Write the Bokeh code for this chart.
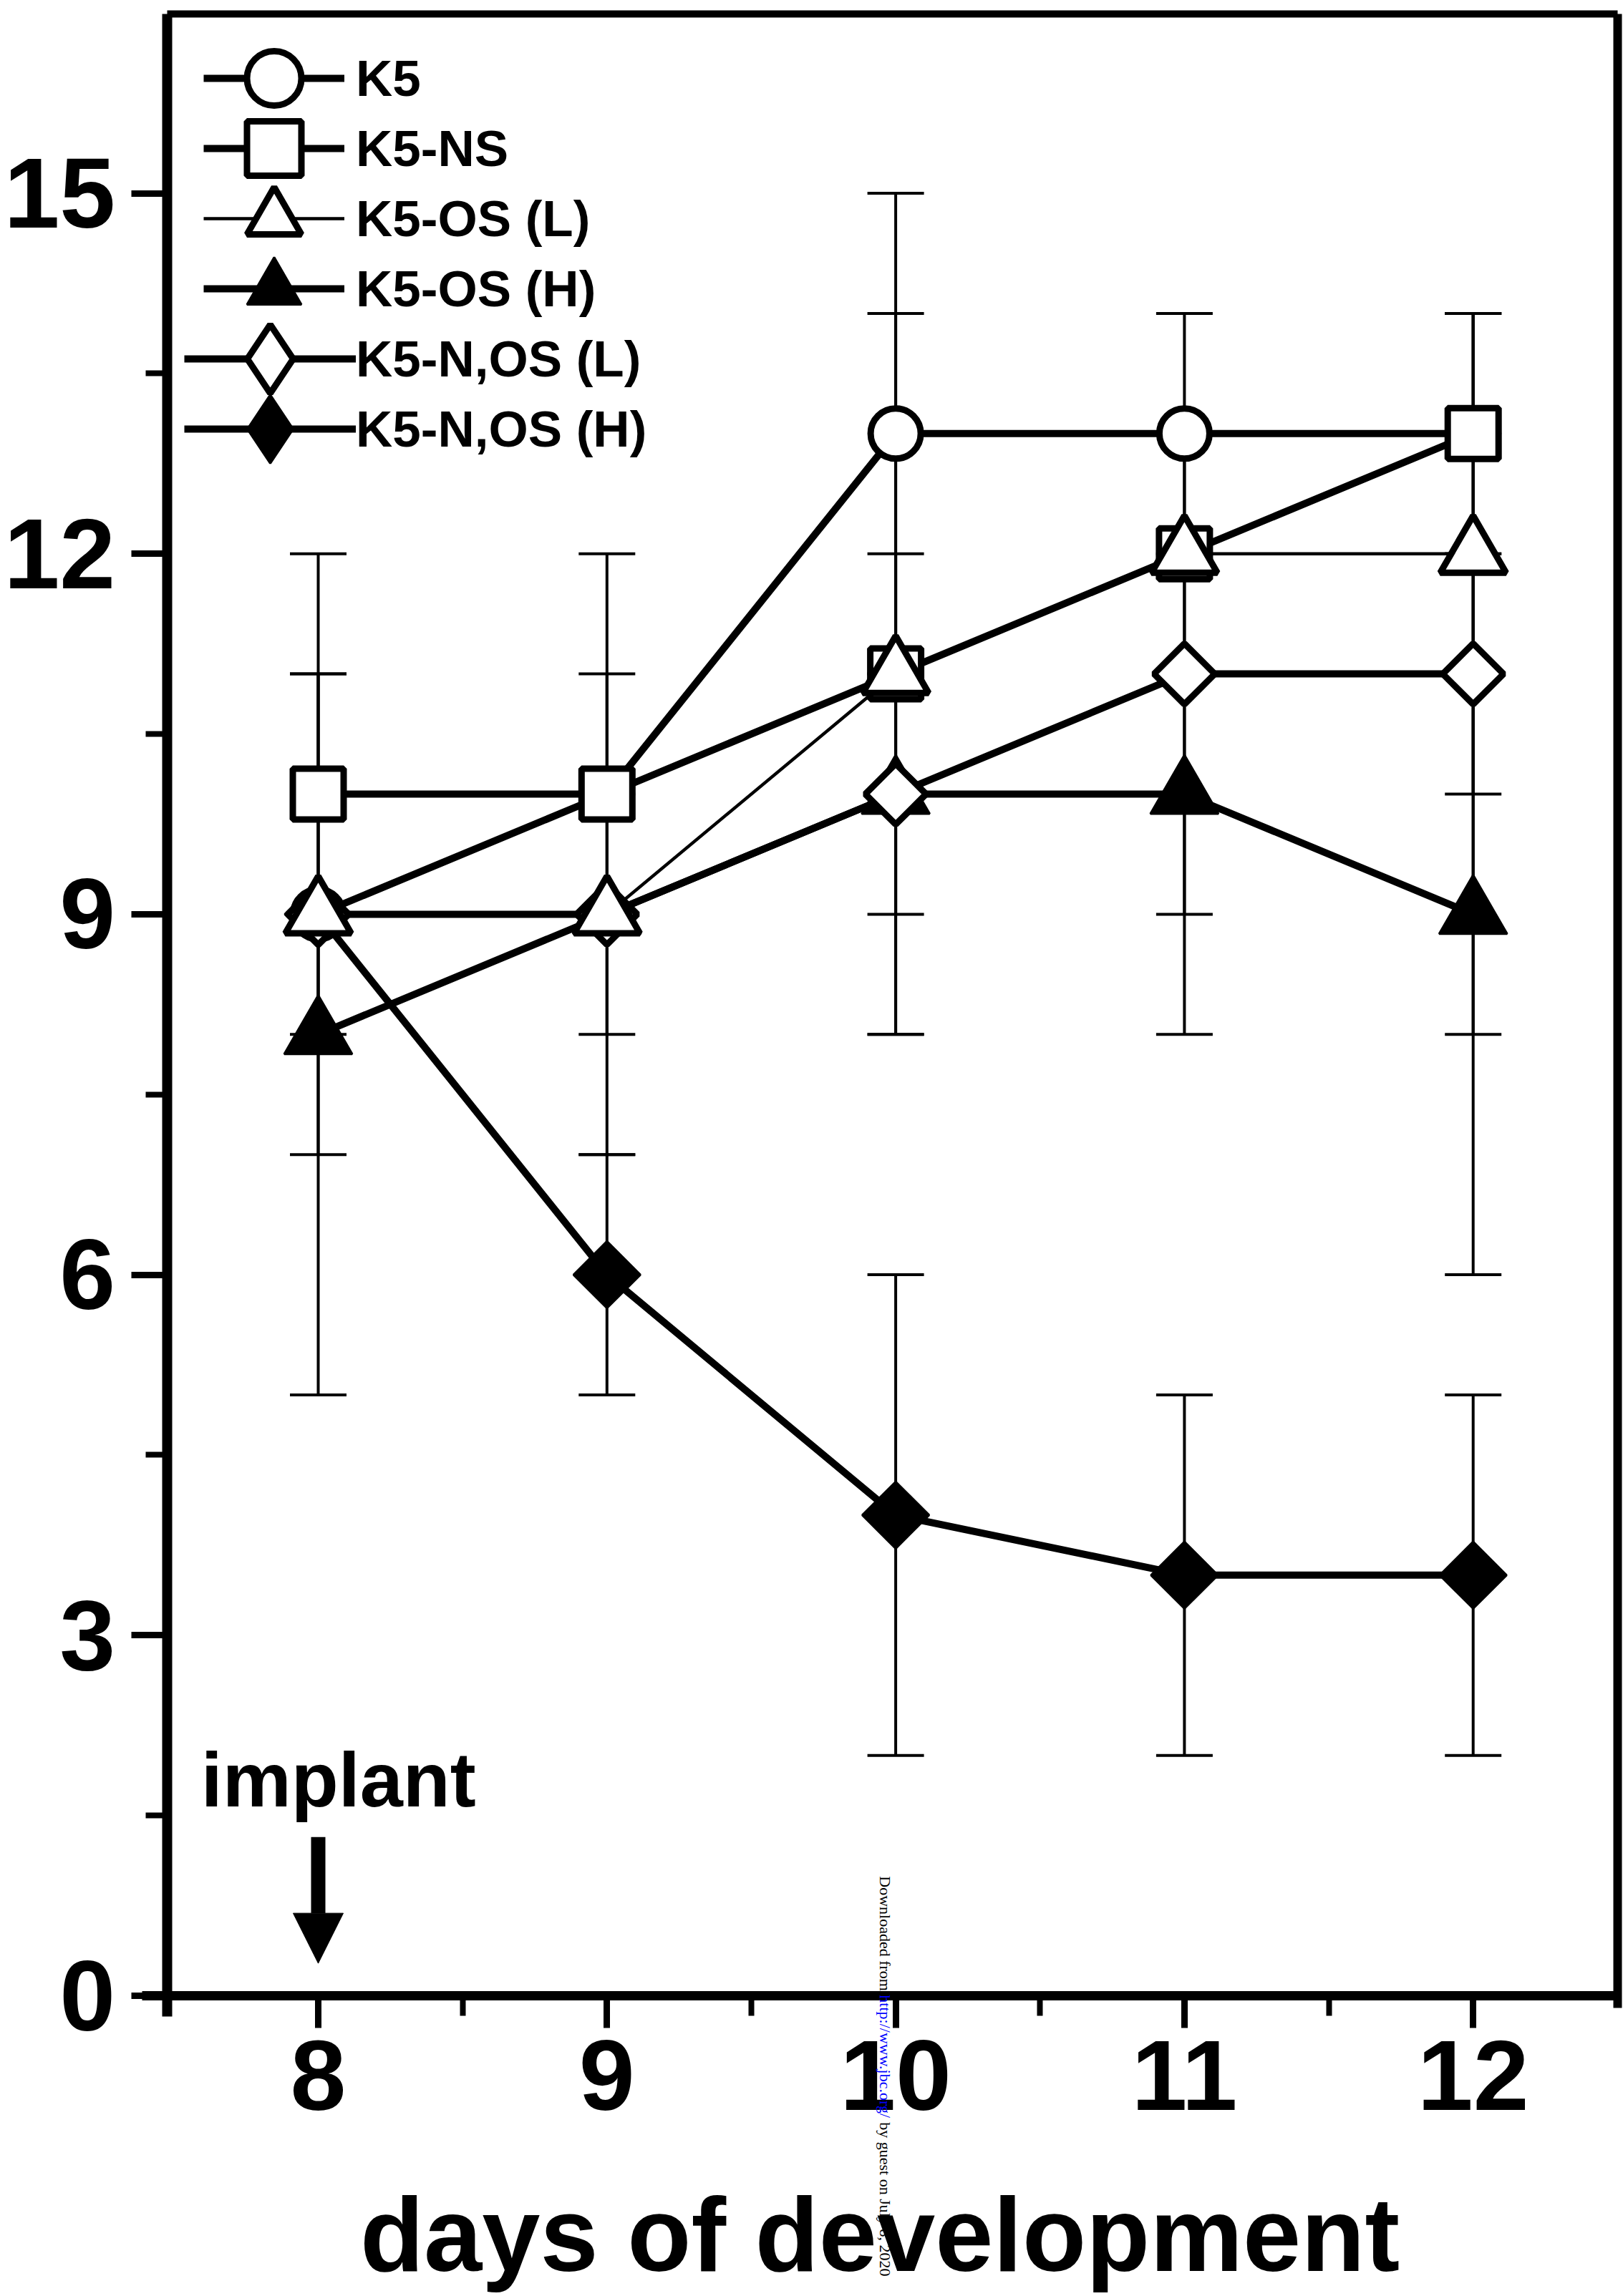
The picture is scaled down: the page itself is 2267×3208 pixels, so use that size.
import math
from bokeh.plotting import figure
from bokeh.models import (Range1d, FixedTicker, Whisker, TeeHead, ColumnDataSource,
                          Legend, LegendItem, Label, Arrow, NormalHead, LinearAxis)
from bokeh.embed import file_html
from bokeh.resources import INLINE

# ---------------- data ----------------
days = [8, 9, 10, 11, 12]
k5 = [9, 10, 13, 13, 13]
k5_ns = [10, 10, 11, 12, 13]
k5_os_l = [9, 9, 11, 12, 12]
k5_os_h = [8, 9, 10, 10, 9]
k5_nos_l = [9, 9, 10, 11, 11]
k5_nos_h = [9, 6, 4, 3.5, 3.5]

nan = float("nan")
k5_err = [2, nan, 2, 1, nan]
k5_ns_err = [2, 2, 3, nan, 1]
k5_os_l_err = [nan, 2, nan, nan, 2]
k5_os_h_err = [3, nan, 1, 2, 3]
k5_nos_l_err = [nan, nan, 2, 2, 3]
k5_nos_h_err = [nan, 1, 2, 1.5, 1.5]

series_names = ["K5", "K5-NS", "K5-OS (L)", "K5-OS (H)", "K5-N,OS (L)", "K5-N,OS (H)"]

y_ticks = [0, 3, 6, 9, 12, 15]
y_minor = [1.5, 4.5, 7.5, 10.5, 13.5]
x_ticks = [8, 9, 10, 11, 12]
x_minor = [8.5, 9.5, 10.5, 11.5]

x_title = "days of development"
note_text = "implant"
wm_parts = ["Downloaded from ", "http://www.jbc.org/", " by guest on July 8, 2020"]

# ---------------- geometry (plot box in data units) ----------------
W, H = 2267, 3208
X_LEFT, X_RIGHT = 7.476, 12.5      # y-axis position and right frame edge
Y_TOP = 16.49                      # top frame edge
PX_PER_X, PX_PER_Y = 403.3, 167.9
X8_PX, Y0_PX = 444, 2788           # canvas position of x=8 and y=0

FONT = "Liberation Sans"
p = figure(width=W, height=H, output_backend="svg", toolbar_location=None,
           x_axis_location=None, y_axis_location=None,
           x_range=Range1d(8 - X8_PX / PX_PER_X, 8 + (W - X8_PX) / PX_PER_X),
           y_range=Range1d(-(H - Y0_PX) / PX_PER_Y, Y0_PX / PX_PER_Y),
           min_border_left=0, min_border_right=0, min_border_top=0, min_border_bottom=0)
p.background_fill_color = "white"
p.border_fill_color = "white"
p.outline_line_color = None
p.xgrid.visible = False
p.ygrid.visible = False


def style_axis(ax):
    ax.axis_line_color = "black"
    ax.major_tick_line_width = 9
    ax.minor_tick_line_width = 8
    ax.major_tick_in = 0
    ax.minor_tick_in = 0
    ax.major_label_text_font = FONT
    ax.major_label_text_font_style = "bold"
    ax.major_label_text_font_size = "140px"
    ax.major_label_text_color = "black"


xa = LinearAxis(fixed_location=0, bounds=(7.39, X_RIGHT),
                ticker=FixedTicker(ticks=x_ticks, minor_ticks=x_minor))
style_axis(xa)
xa.axis_line_width = 13
xa.major_tick_out = 45
xa.minor_tick_out = 28
xa.major_label_standoff = 18
xa.axis_label = x_title
xa.axis_label_text_font = FONT
xa.axis_label_text_font_style = "bold"
xa.axis_label_text_font_size = "146px"
xa.axis_label_text_color = "black"
xa.axis_label_standoff = 90
p.add_layout(xa, "below")

ya = LinearAxis(fixed_location=X_LEFT, bounds=(-0.17, Y_TOP),
                ticker=FixedTicker(ticks=y_ticks, minor_ticks=y_minor))
style_axis(ya)
ya.axis_line_width = 14
ya.major_tick_out = 50
ya.minor_tick_out = 30
ya.major_label_standoff = 22
p.add_layout(ya, "left")

# frame top and right edges
top_ax = LinearAxis(fixed_location=Y_TOP, bounds=(X_LEFT, X_RIGHT), ticker=FixedTicker(ticks=[]),
                    major_label_text_font_size="0px", axis_line_width=10, axis_line_color="black")
p.add_layout(top_ax, "above")
right_ax = LinearAxis(fixed_location=X_RIGHT, bounds=(-0.1, Y_TOP), ticker=FixedTicker(ticks=[]),
                      major_label_text_font_size="0px", axis_line_width=12, axis_line_color="black")
p.add_layout(right_ax, "right")

# ---------------- error bars ----------------
all_vals = [k5, k5_ns, k5_os_l, k5_os_h, k5_nos_l, k5_nos_h]
all_errs = [k5_err, k5_ns_err, k5_os_l_err, k5_os_h_err, k5_nos_l_err, k5_nos_h_err]
bx, lo, hi = [], [], []
for vals, errs in zip(all_vals, all_errs):
    for d, v, e in zip(days, vals, errs):
        if e == e:
            bx.append(d); lo.append(v - e); hi.append(v + e)
wsrc = ColumnDataSource(dict(x=bx, lower=lo, upper=hi))
w = Whisker(source=wsrc, base="x", lower="lower", upper="upper", dimension="height",
            line_width=4, line_color="black", level="underlay",
            upper_head=TeeHead(size=79, line_width=4, line_color="black"),
            lower_head=TeeHead(size=79, line_width=4, line_color="black"))
p.add_layout(w)

# ---------------- lines & markers ----------------
styles = {
    "K5": dict(marker="circle", size=70, fill="white", lw=9, angle=0, line=10, leg="circle"),
    "K5-NS": dict(marker="square", size=71, fill="white", lw=9, angle=0, line=10, leg="square"),
    "K5-OS (L)": dict(marker="triangle", size=92, fill="white", lw=9, angle=0, line=4.5, leg="triangle"),
    "K5-OS (H)": dict(marker="triangle", size=95, fill="black", lw=3, angle=0, line=10, leg="triangle"),
    "K5-N,OS (L)": dict(marker="square", size=60, fill="white", lw=9, angle=math.pi / 4, line=10, leg="diamond"),
    "K5-N,OS (H)": dict(marker="square", size=66, fill="black", lw=3, angle=math.pi / 4, line=10, leg="diamond"),
}
data = dict(zip(series_names, all_vals))

line_r = {}
for name in series_names:
    line_r[name] = p.line(days, data[name], line_color="black", line_width=styles[name]["line"])

scat_r = {}
draw_order = ["K5-N,OS (H)", "K5-OS (H)", "K5", "K5-N,OS (L)", "K5-NS", "K5-OS (L)"]
for name in draw_order:
    s = styles[name]
    scat_r[name] = p.scatter(days, data[name], marker=s["marker"], size=s["size"],
                             fill_color=s["fill"], line_color="black", line_width=s["lw"],
                             angle=s["angle"])

# legend: one single-item legend per row so that the symbols can be large
LEG_TEXT_X = 497
for i, name in enumerate(series_names):
    s = styles[name]
    if s["angle"] != 0:
        sym = p.scatter([nan], [nan], marker=s["leg"], size=s["size"], fill_color=s["fill"],
                        line_color="black", line_width=s["lw"])
        gw, gh, gx = 240, 240, 257
    else:
        sym = scat_r[name]
        gw, gh, gx = 197, 190, 284
    lg = Legend(items=[LegendItem(label=name, renderers=[line_r[name], sym])],
                location=(gx, H - (109 + 98 * i) - gh // 2), orientation="vertical",
                glyph_width=gw, glyph_height=gh, label_height=gh, spacing=0,
                padding=0, margin=0, label_standoff=LEG_TEXT_X - gx - gw,
                label_text_font=FONT, label_text_font_style="bold",
                label_text_font_size="71px", label_text_color="black",
                background_fill_alpha=0, border_line_alpha=0)
    p.add_layout(lg)

# ---------------- annotations ----------------
p.add_layout(Label(x=8.07, y=1.80, text=note_text, text_align="center",
                   text_baseline="alphabetic", text_font=FONT, text_font_style="bold",
                   text_font_size="108px", text_color="black"))
p.add_layout(Arrow(x_start=8, y_start=1.32, x_end=8, y_end=0.27, line_width=20,
                   line_color="black",
                   end=NormalHead(size=70, fill_color="black", line_color="black", line_width=1)))

wm_y = [0.996, 0.007, -1.053]
wm_col = ["black", "blue", "black"]
for t, yy, c in zip(wm_parts, wm_y, wm_col):
    p.add_layout(Label(x=9.963, y=yy, text=t, angle=-math.pi / 2, text_align="left",
                       text_baseline="middle", text_font="Liberation Serif",
                       text_font_size="22px", text_color=c))

open("out.html", "w").write(file_html(p, INLINE))
